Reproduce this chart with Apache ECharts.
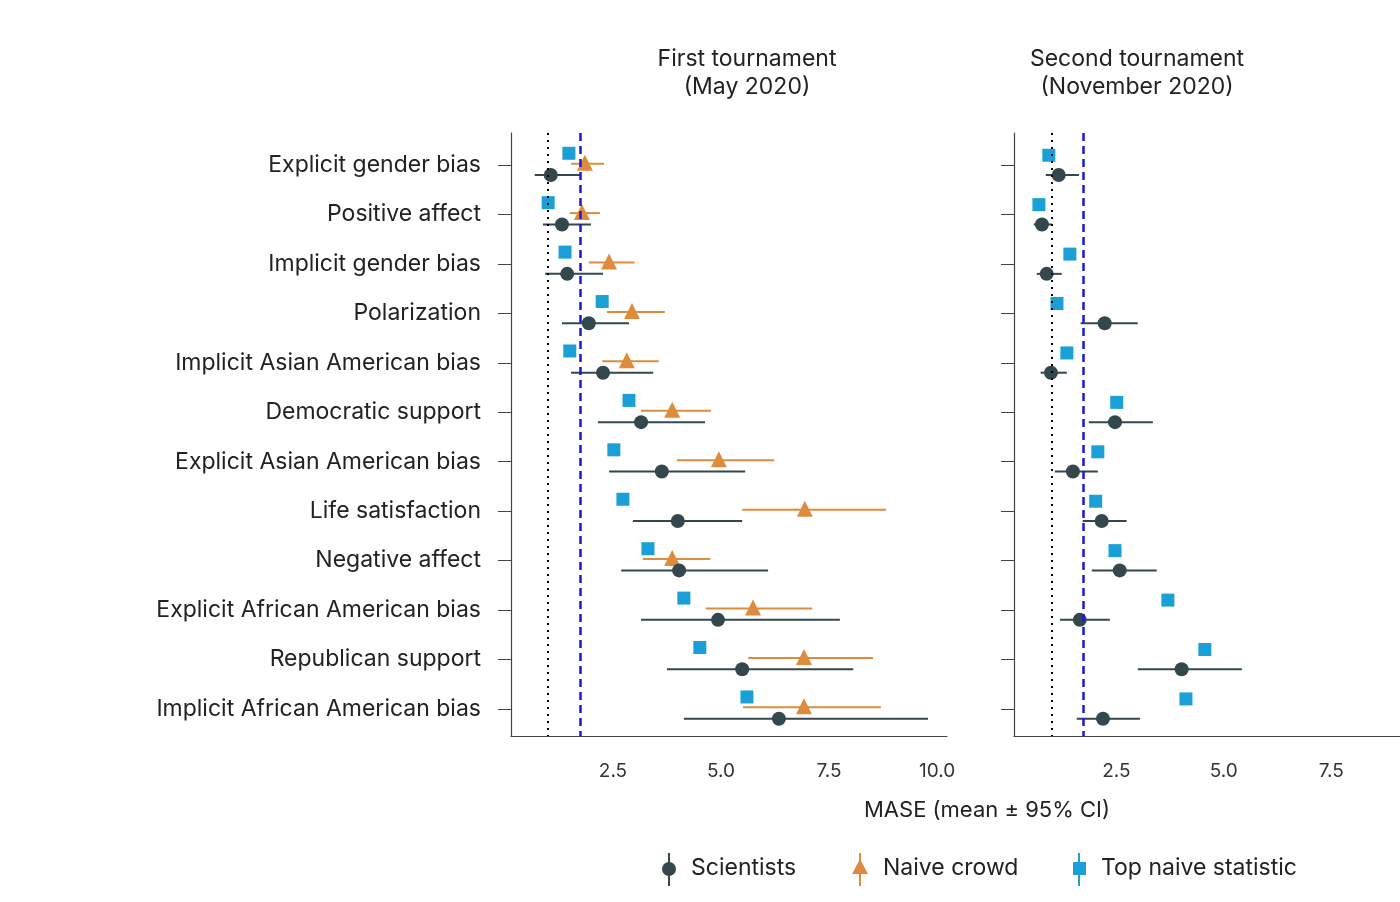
<!doctype html>
<html>
<head>
<meta charset="UTF-8">
<title>MASE by domain</title>
<script src="https://cdn.jsdelivr.net/npm/echarts@6/dist/echarts.min.js"></script>
<style>
  html, body { margin: 0; background: #fff; }
  #main { width: 1400px; height: 902px; }
</style>
</head>
<body>
<div id="main"></div>
<script>
var domains = ['Explicit gender bias', 'Positive affect', 'Implicit gender bias', 'Polarization',
  'Implicit Asian American bias', 'Democratic support', 'Explicit Asian American bias',
  'Life satisfaction', 'Negative affect', 'Explicit African American bias',
  'Republican support', 'Implicit African American bias'];

// first tournament
var sci1 = [1.06, 1.32, 1.44, 1.94, 2.27, 3.15, 3.63, 4.00, 4.03, 4.93, 5.49, 6.34];
var sci1Lo = [0.69, 0.88, 0.93, 1.32, 1.53, 2.15, 2.41, 2.96, 2.69, 3.15, 3.75, 4.14];
var sci1Hi = [1.74, 1.99, 2.27, 2.87, 3.43, 4.63, 5.56, 5.49, 6.09, 7.75, 8.06, 9.79];
var crowd1 = [1.85, 1.78, 2.41, 2.94, 2.82, 3.87, 4.95, 6.94, 3.87, 5.74, 6.92, 6.92];
var crowd1Lo = [1.53, 1.50, 1.94, 2.36, 2.25, 3.15, 3.98, 5.49, 3.19, 4.65, 5.63, 5.51];
var crowd1Hi = [2.29, 2.20, 3.00, 3.70, 3.56, 4.77, 6.23, 8.82, 4.75, 7.11, 8.52, 8.70];
var stat1 = [1.48, 1.00, 1.39, 2.25, 1.50, 2.87, 2.52, 2.73, 3.31, 4.14, 4.51, 5.60];

// second tournament
var sci2 = [1.16, 0.77, 0.88, 2.23, 0.98, 2.47, 1.49, 2.16, 2.58, 1.65, 4.02, 2.19];
var sci2Lo = [0.86, 0.58, 0.65, 1.67, 0.74, 1.86, 1.07, 1.72, 1.93, 1.19, 3.00, 1.58];
var sci2Hi = [1.63, 1.00, 1.23, 3.00, 1.35, 3.35, 2.07, 2.74, 3.44, 2.35, 5.42, 3.05];
var stat2 = [0.93, 0.70, 1.42, 1.12, 1.35, 2.51, 2.07, 2.02, 2.47, 3.70, 4.56, 4.12];

var xTicks = [2.5, 5.0, 7.5, 10.0];
var randomWalk = [1.0, 1.0];
var naiveRef = [1.74, 1.72];

var cSci = '#33474d', cCrowd = '#dd8c3e', cStat = '#1a9fd6';
var font = 'Inter, "Noto Sans", sans-serif';
var rows = domains.map(function (d, i) { return i; });

function errBars(x, lo, hi, off, color, gi) {
  return {
    type: 'custom', xAxisIndex: gi, yAxisIndex: gi, z: 2,
    data: x.map(function (v, i) { return [i + off, lo[i], hi[i]]; }),
    encode: { x: [1, 2], y: 0 },
    renderItem: function (params, api) {
      var a = api.coord([api.value(1), api.value(0)]);
      var b = api.coord([api.value(2), api.value(0)]);
      return { type: 'line', shape: { x1: a[0], y1: a[1], x2: b[0], y2: b[1] },
        style: { stroke: color, lineWidth: 2 } };
    }
  };
}
function pts(x, off, symbol, size, color, gi) {
  return {
    type: 'scatter', xAxisIndex: gi, yAxisIndex: gi, z: 3,
    symbol: symbol, symbolSize: size, itemStyle: { color: color, opacity: 1 },
    data: x.map(function (v, i) { return [v, i + off]; })
  };
}
function refLines(gi) {
  return {
    type: 'line', xAxisIndex: gi, yAxisIndex: gi, data: [], z: 1,
    markLine: {
      silent: true, symbol: 'none', label: { show: false },
      data: [
        { xAxis: randomWalk[gi], lineStyle: { color: '#000', type: [2, 5], width: 2 } },
        { xAxis: naiveRef[gi], lineStyle: { color: '#1a1ad6', type: [8, 5], width: 2.5 } }
      ]
    }
  };
}
function yAx(gi, labels) {
  return {
    type: 'value', gridIndex: gi, inverse: true, min: -0.65, max: 11.55,
    splitLine: { show: false },
    axisLine: { show: true, lineStyle: { color: '#444', width: 1.2 } },
    axisTick: { show: true, length: 13, customValues: rows, lineStyle: { color: '#444' } },
    axisLabel: { show: labels, customValues: rows, margin: 30, color: '#222', fontSize: 23, fontFamily: font,
      formatter: function (v) { return domains[Math.round(v)]; } }
  };
}
function xAx(gi, min, max) {
  return {
    type: 'value', gridIndex: gi, min: min, max: max,
    splitLine: { show: false },
    axisLine: { show: true, onZero: false, lineStyle: { color: '#444', width: 1.2 } },
    axisTick: { show: false },
    axisLabel: { customValues: xTicks.filter(function (t) { return t < max; }), color: '#333', fontSize: 19,
      fontFamily: font, margin: 26, formatter: function (v) { return v.toFixed(1); } }
  };
}

var myChart = echarts.init(document.getElementById('main'));
var option = {
  backgroundColor: '#fff',
  animation: false,
  grid: [
    { left: 511, top: 133, width: 436, height: 603 },
    { left: 1014, top: 133, width: 386, height: 603 }
  ],
  xAxis: [xAx(0, 0.14, 10.23), xAx(1, 0.12, 9.1)],
  yAxis: [yAx(0, true), yAx(1, false)],
  graphic: [
    { type: 'text', style: { text: 'First tournament\n(May 2020)', x: 747, y: 45, align: 'center',
      fontSize: 23, fontFamily: font, fill: '#222', lineHeight: 28 } },
    { type: 'text', style: { text: 'Second tournament\n(November 2020)', x: 1137, y: 45, align: 'center',
      fontSize: 23, fontFamily: font, fill: '#222', lineHeight: 28 } },
    { type: 'text', style: { text: 'MASE (mean \u00b1 95% CI)', x: 987, y: 799, align: 'center',
      fontSize: 22, fontFamily: font, fill: '#222' } },
    // legend
    { type: 'line', shape: { x1: 669, y1: 853, x2: 669, y2: 886 }, style: { stroke: cSci, lineWidth: 2 } },
    { type: 'circle', shape: { cx: 669, cy: 869, r: 7 }, style: { fill: cSci } },
    { type: 'text', style: { text: 'Scientists', x: 691, y: 857, fontSize: 23, fontFamily: font, fill: '#222' } },
    { type: 'line', shape: { x1: 860, y1: 853, x2: 860, y2: 886 }, style: { stroke: cCrowd, lineWidth: 2 } },
    { type: 'polygon', shape: { points: [[860, 859], [868, 874], [852, 874]] }, style: { fill: cCrowd } },
    { type: 'text', style: { text: 'Naive crowd', x: 883, y: 857, fontSize: 23, fontFamily: font, fill: '#222' } },
    { type: 'line', shape: { x1: 1079, y1: 853, x2: 1079, y2: 886 }, style: { stroke: cStat, lineWidth: 2 } },
    { type: 'rect', shape: { x: 1073, y: 862, width: 13, height: 13 }, style: { fill: cStat } },
    { type: 'text', style: { text: 'Top naive statistic', x: 1101, y: 857, fontSize: 23, fontFamily: font, fill: '#222' } }
  ],
  series: [
    refLines(0), refLines(1),
    errBars(sci1, sci1Lo, sci1Hi, 0.2, cSci, 0),
    errBars(crowd1, crowd1Lo, crowd1Hi, -0.03, cCrowd, 0),
    pts(stat1, -0.24, 'rect', 13, cStat, 0),
    pts(crowd1, -0.05, 'triangle', 16, cCrowd, 0),
    pts(sci1, 0.2, 'circle', 14, cSci, 0),
    errBars(sci2, sci2Lo, sci2Hi, 0.2, cSci, 1),
    pts(stat2, -0.2, 'rect', 13, cStat, 1),
    pts(sci2, 0.2, 'circle', 14, cSci, 1)
  ]
};
myChart.setOption(option);
</script>
</body>
</html>
